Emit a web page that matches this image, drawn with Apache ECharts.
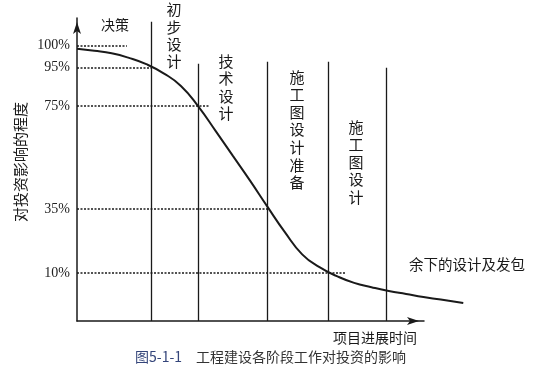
<!DOCTYPE html>
<html>
<head>
<meta charset="utf-8">
<script src="https://cdn.jsdelivr.net/npm/echarts@6/dist/echarts.min.js"></script>
<style>html,body{margin:0;padding:0;background:#fff;}#c{width:536px;height:369px;}</style>
</head>
<body>
<div id="c"></div>
<script>
// Curve: influence on investment vs project progress (schematic units)
var curveX = [0, 5, 10, 15, 20, 25, 30, 35, 40, 45, 50, 55, 60, 65, 70, 75, 80, 85, 90, 95, 100, 105, 111.5];
var curveY = [98.8, 98.0, 97.0, 95.2, 92.7, 89.1, 84.1, 76.0, 66.3, 56.4, 46.5, 36.2, 26.2, 17.4, 12.3, 8.8, 6.1, 4.4, 2.9, 1.7, 0.5, -0.5, -1.9];
// Y tick labels and where they sit on the axis
var tickLabels = ['100%', '95%', '75%', '35%', '10%'];
var tickPos = [100, 91.3, 76.2, 35.4, 10];
var dotEnd = [14.4, 21.4, 38.4, 55.4, 77.7];
// Stage dividers
var dividerX = [21.4, 34.9, 54.8, 72.5, 89.2];
var dividerTop = [109.5, 92.9, 93.7, 93.7, 91.3];
// Texts
var stageLabels = ['决策', '初步设计', '技术设计', '施工图设计准备', '施工图设计', '余下的设计及发包'];
var yName = '对投资影响的程度';
var xName = '项目进展时间';
var captionNo = '图5-1-1';
var captionText = '工程建设各阶段工作对投资的影响';

var chart = echarts.init(document.getElementById('c'));
var cjk = '"Noto Sans CJK SC", sans-serif';
var ink = '#1a1a1a';

var curveData = curveX.map(function (x, i) { return [x, curveY[i]]; });
var dividerLines = dividerX.map(function (x, i) {
  return [{ coord: [x, -9] }, { coord: [x, dividerTop[i]] }];
});
var dotLines = tickPos.map(function (y, i) {
  return [{ coord: [0, y] }, { coord: [dotEnd[i], y] }];
});

function vtext(s) { return s.split('').join('\n'); }

var hidden = { show: false };
chart.setOption({
  animation: false,
  grid: [
    { left: 77, right: 71, top: 18, bottom: 48 },   // plotting area (curve may pass the axis end)
    { left: 77, right: 112, top: 18, bottom: 48 }   // drawn axes with arrows
  ],
  xAxis: [
    { gridIndex: 0, type: 'value', min: 0, max: 112, axisLine: hidden, axisTick: hidden, axisLabel: hidden, splitLine: hidden },
    {
      gridIndex: 1, type: 'value', min: 0, max: 100,
      axisLine: { onZero: false, symbol: ['none', 'arrow'], symbolSize: [6, 12], symbolOffset: [0, -5], lineStyle: { color: ink, width: 1.5 } },
      axisTick: hidden, axisLabel: hidden, splitLine: hidden
    }
  ],
  yAxis: [
    { gridIndex: 0, type: 'value', min: -9, max: 111, axisLine: hidden, axisTick: hidden, axisLabel: hidden, splitLine: hidden },
    {
      gridIndex: 1, type: 'value', min: -9, max: 111,
      axisLine: { show: true, onZero: false, symbol: ['none', 'arrow'], symbolSize: [6, 12], symbolOffset: [0, -4], lineStyle: { color: ink, width: 1.5 } },
      axisTick: hidden, splitLine: hidden,
      axisLabel: {
        customValues: tickPos, margin: 7, color: '#222',
        fontFamily: '"Liberation Serif", serif', fontSize: 14,
        formatter: function (v) { var k = tickPos.indexOf(v); return k >= 0 ? tickLabels[k] : ''; }
      }
    }
  ],
  series: [
    {
      type: 'line', xAxisIndex: 0, yAxisIndex: 0, data: [], silent: true,
      markLine: {
        silent: true, symbol: ['none', 'none'], label: { show: false },
        lineStyle: { color: ink, type: 'solid', width: 1.3 },
        data: dividerLines
      }
    },
    {
      type: 'line', xAxisIndex: 0, yAxisIndex: 0, data: [], silent: true,
      markLine: {
        silent: true, symbol: ['none', 'none'], label: { show: false },
        lineStyle: { color: ink, type: [2, 1.5], width: 1.6 },
        data: dotLines
      }
    },
    {
      type: 'line', xAxisIndex: 0, yAxisIndex: 0, data: curveData, smooth: 0.5,
      symbol: 'none', lineStyle: { color: ink, width: 2 }
    },
    { type: 'line', xAxisIndex: 1, yAxisIndex: 1, data: [] }
  ],
  graphic: [
    { type: 'text', left: 101, top: 18, style: { text: stageLabels[0], font: '14px ' + cjk, fill: ink } },
    { type: 'text', x: 174, y: 1, style: { text: vtext(stageLabels[1]), font: '15px ' + cjk, fill: ink, align: 'center', lineHeight: 17.3 } },
    { type: 'text', x: 226, y: 52, style: { text: vtext(stageLabels[2]), font: '15px ' + cjk, fill: ink, align: 'center', lineHeight: 17.6 } },
    { type: 'text', x: 297, y: 68, style: { text: vtext(stageLabels[3]), font: '15px ' + cjk, fill: ink, align: 'center', lineHeight: 17.6 } },
    { type: 'text', x: 356, y: 118, style: { text: vtext(stageLabels[4]), font: '15px ' + cjk, fill: ink, align: 'center', lineHeight: 17.6 } },
    { type: 'text', left: 409, top: 257, style: { text: stageLabels[5], font: '14.5px ' + cjk, fill: ink } },
    { type: 'text', left: 333, top: 331, style: { text: xName, font: '14px ' + cjk, fill: ink } },
    { type: 'text', x: 20, y: 162, rotation: Math.PI / 2, style: { text: yName, font: '15px ' + cjk, fill: ink, align: 'center', verticalAlign: 'middle' } },
    { type: 'text', left: 135, top: 350, style: { text: captionNo, font: '14px ' + cjk, fill: '#34457a' } },
    { type: 'text', left: 196, top: 350, style: { text: captionText, font: '14px ' + cjk, fill: '#333' } }
  ]
});
</script>
</body>
</html>
